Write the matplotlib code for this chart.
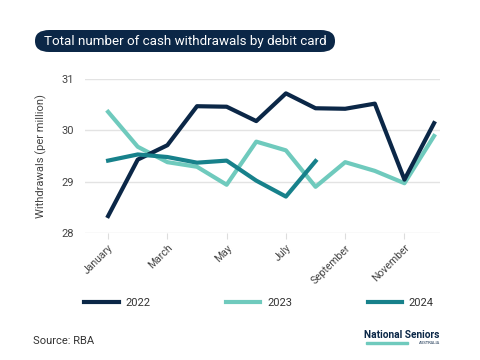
import matplotlib
matplotlib.use("Agg")
import matplotlib.pyplot as plt
from matplotlib.patches import FancyBboxPatch, Rectangle

plt.rcParams['font.family'] = ['Roboto', 'DejaVu Sans']

months = ["January", "February", "March", "April", "May", "June", "July",
          "August", "September", "October", "November", "December"]
tick_months = ["January", "March", "May", "July", "September", "November"]

y2022 = [28.33, 29.43, 29.71, 30.47, 30.46, 30.18, 30.72, 30.43, 30.42, 30.52, 29.04, 30.14]
y2023 = [30.36, 29.68, 29.38, 29.29, 28.94, 29.78, 29.61, 28.90, 29.38, 29.21, 28.97, 29.89]
y2024 = [29.41, 29.53, 29.48, 29.37, 29.41, 29.02, 28.71, 29.40]

navy = "#0b2747"
light = "#6fcabd"
teal = "#17818b"
grey = "#444444"

fig = plt.figure(figsize=(4.8, 3.6), dpi=100)
W, H = 480, 360
ax = fig.add_axes([85 / W, 1 - 233 / H, (440 - 85) / W, (233 - 79) / H])

x = list(range(len(months)))
ax.plot(x, y2022, color=navy, lw=3, label="2022", zorder=3)
ax.plot(x, y2023, color=light, lw=3, label="2023", zorder=2)
ax.plot(x[:len(y2024)], y2024, color=teal, lw=3, label="2024", zorder=4)

ax.set_xlim(-0.78, 11.2)
ax.set_ylim(28, 31)
ax.set_yticks([28, 29, 30, 31])
ax.set_xticks([months.index(m) for m in tick_months])
ax.set_xticklabels(tick_months, rotation=45, ha="right", rotation_mode="anchor")
ax.tick_params(axis="y", length=0, pad=8, labelsize=8, labelcolor=grey)
ax.tick_params(axis="x", length=4, color="#dddddd", pad=3, labelsize=7.5, labelcolor=grey)
ax.grid(axis="y", color="#e3e3e3", lw=1)
ax.set_axisbelow(True)
for s in ax.spines.values():
    s.set_visible(False)
ax.set_ylabel("Withdrawals (per million)", fontsize=8, color=grey, labelpad=10)
ax.yaxis.set_label_coords(-38 / 355, 0.5)

# title pill
box = FancyBboxPatch((35 / W, 1 - 52 / H), 300 / W, 22 / H,
                     boxstyle="round,pad=0,rounding_size=0.03",
                     transform=fig.transFigure, facecolor=navy, edgecolor="none")
fig.patches.append(box)
fig.text(44 / W, 1 - 41.5 / H, "Total number of cash withdrawals by debit card",
         color="white", fontsize=9.6, va="center", ha="left")

fig.legend(loc="center", bbox_to_anchor=(259 / W, 1 - 303 / H), ncol=3, frameon=False,
           fontsize=8, handlelength=3.1, handletextpad=0.6, columnspacing=6.8,
           labelcolor="#333333")

fig.text(33 / W, 1 - 341 / H, "Source: RBA", fontsize=8, color="#333333", va="center")

# logo
fig.text(440 / W, 1 - 335 / H, "National Seniors", fontsize=7.3, fontweight="bold",
         color=navy, ha="right", va="center")
fig.patches.append(Rectangle((366 / W, 1 - 344 / H), 42 / W, 2 / H,
                             transform=fig.transFigure, color=light))
fig.text(440 / W, 1 - 343 / H, "AUSTRALIA", fontsize=3, color=navy,
         ha="right", va="center")

fig.savefig("out.png", dpi=100)
